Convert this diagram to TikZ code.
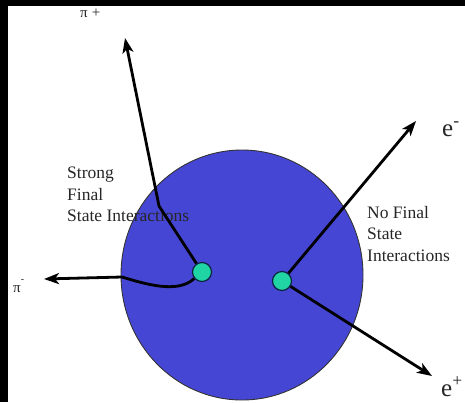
\documentclass[tikz,border=0pt]{standalone}
\usepackage{fontspec}
\setmainfont{Liberation Serif}
\usepackage{tikz}
\usetikzlibrary{
  arrows.meta,
  shapes.geometric,
  positioning,
  calc
}
\definecolor{fsNucleus}{HTML}{4646D4}
\definecolor{fsVertex}{HTML}{20D4A4}
\definecolor{fsEdge}{HTML}{0B2440}

\tikzset{
  vertex/.style={circle, fill=fsVertex, draw=fsEdge, line width=1.2pt,
    minimum size=19pt, inner sep=0pt},
  track/.style={line width=2.8pt, -{Stealth[length=15pt, width=11pt, inset=4pt]}},
  fsi/.style={font=\fontsize{17.5}{21.5}\selectfont, align=left, inner sep=0pt, text=black!85},
  plabel/.style={anchor=base west, inner sep=0pt, text=black!85}
}

\begin{document}
\begin{tikzpicture}[x=1pt, y=-1pt]
  \useasboundingbox (0,0) rectangle (465,402);
  \fill[white] (0,0) rectangle (465,402);
  % frame
  \fill[black] (0,0) rectangle (465,6);
  \fill[black] (0,0) rectangle (8,402);

  % nucleus
  \node[ellipse, fill=fsNucleus, draw=black!80, line width=0.9pt, inner sep=0pt,
    minimum width=242pt, minimum height=250pt] (nucleus) at (242,275) {};

  \node[fsi, anchor=north west] (strong) at (67,167) {Strong\\Final\\State Interactions};
  \node[fsi, anchor=north west] (nofsi) at (367,206) {No Final\\State\\Interactions};

  % decay points
  \node[vertex] (pion) at (202,272) {};
  \node[vertex] (lep) at (282,281) {};

  \coordinate (kink) at (159,206);
  \coordinate (pipTip) at (125,38);
  \coordinate (rim) at (122,277);
  \coordinate (pimTip) at (44,279);
  \coordinate (emTip) at (416,121);
  \coordinate (epTip) at (432,376);

  \draw[track] (pion) -- (kink) -- (pipTip);
  \draw[line width=2.8pt] (pion.220) .. controls (178,294) and (145,284) .. (rim);
  \draw[track] (rim) -- (pimTip);
  \draw[track] (lep) -- (emTip);
  \draw[track] (lep) -- (epTip);

  % particle labels
  \node[plabel, font=\fontsize{15}{17}\selectfont] (pipLab) at (80,17) {π\hspace{4pt}+};
  \node[plabel, font=\fontsize{15}{17}\selectfont] (pimLab) at (13,292)
    {π\raisebox{10pt}{\fontsize{10}{10}\selectfont -}};
  \node[plabel, font=\fontsize{25}{30}\selectfont] (emLab) at (442,136) {e\textsuperscript{-}};
  \node[plabel, font=\fontsize{25}{30}\selectfont] (epLab) at (441,396) {e\textsuperscript{+}};
\end{tikzpicture}
\end{document}
